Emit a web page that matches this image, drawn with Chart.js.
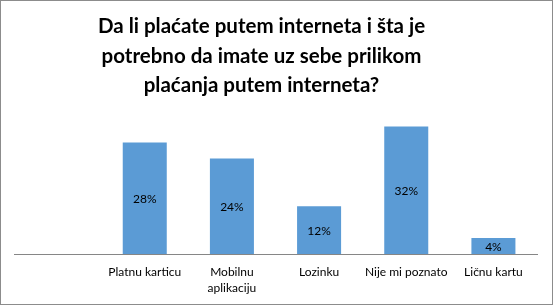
<!DOCTYPE html>
<html><head><meta charset="utf-8">
<script src="https://cdn.jsdelivr.net/npm/chart.js@4/dist/chart.umd.min.js"></script>
<style>html,body{margin:0;padding:0;background:#fff}#wrap{width:553px;height:305px;position:relative}</style>
</head><body><div id="wrap"><canvas id="c" width="553" height="305"></canvas></div>
<script>
const categories = ['', 'Platnu karticu', ['Mobilnu', 'aplikaciju'], 'Lozinku', 'Nije mi poznato', 'Ličnu kartu'];
const values = [null, 28, 24, 12, 32, 4];
const titleLines = ['Da li plaćate putem interneta i šta je', 'potrebno da imate uz sebe prilikom', 'plaćanja putem interneta?'];

const barLabels = {
  id: 'barLabels',
  afterDatasetsDraw(chart) {
    const ctx = chart.ctx;
    const meta = chart.getDatasetMeta(0);
    ctx.save();
    ctx.font = '12px Lato, "Open Sans", sans-serif';
    ctx.fillStyle = '#000';
    ctx.textAlign = 'center';
    ctx.textBaseline = 'middle';
    meta.data.forEach((bar, i) => {
      const v = values[i];
      if (v == null) return;
      ctx.fillText(v + '%', bar.x, (bar.y + bar.base) / 2 + 1);
    });
    ctx.restore();
  }
};
const frame = {
  id: 'frame',
  afterLayout(chart) {
    const t = chart.titleBlock;
    if (t) { t.left -= 14; t.right -= 14; }
  },
  afterDraw(chart) {
    const ctx = chart.ctx;
    ctx.save();
    ctx.strokeStyle = '#8c8c8c';
    ctx.lineWidth = 1;
    ctx.strokeRect(0.5, 0.5, chart.width - 1, chart.height - 1);
    ctx.restore();
  }
};

new Chart(document.getElementById('c'), {
  type: 'bar',
  data: {
    labels: categories,
    datasets: [{ data: values, backgroundColor: '#5B9BD5', categoryPercentage: 1, barPercentage: 0.505 }]
  },
  options: {
    responsive: false,
    animation: false,
    layout: { padding: { left: 14, right: 16, top: 0, bottom: 0 } },
    plugins: {
      legend: { display: false },
      tooltip: { enabled: false },
      title: {
        display: true,
        text: titleLines,
        color: '#000',
        font: { family: 'Lato, "Open Sans", sans-serif', size: 20.5, weight: 'bold', lineHeight: 1.44 },
        padding: { top: 12, bottom: 14 }
      }
    },
    scales: {
      y: { display: false, min: 0, max: 35 },
      x: {
        grid: { display: false, drawTicks: false },
        border: { color: '#868686', width: 1 },
        ticks: { color: '#000', padding: 10, maxRotation: 0, autoSkip: false,
          font: { family: 'Lato, "Open Sans", sans-serif', size: 12, lineHeight: 1.33 } },
        afterFit(scale) { scale.height = 51; }
      }
    }
  },
  plugins: [barLabels, frame]
});
</script></body></html>
